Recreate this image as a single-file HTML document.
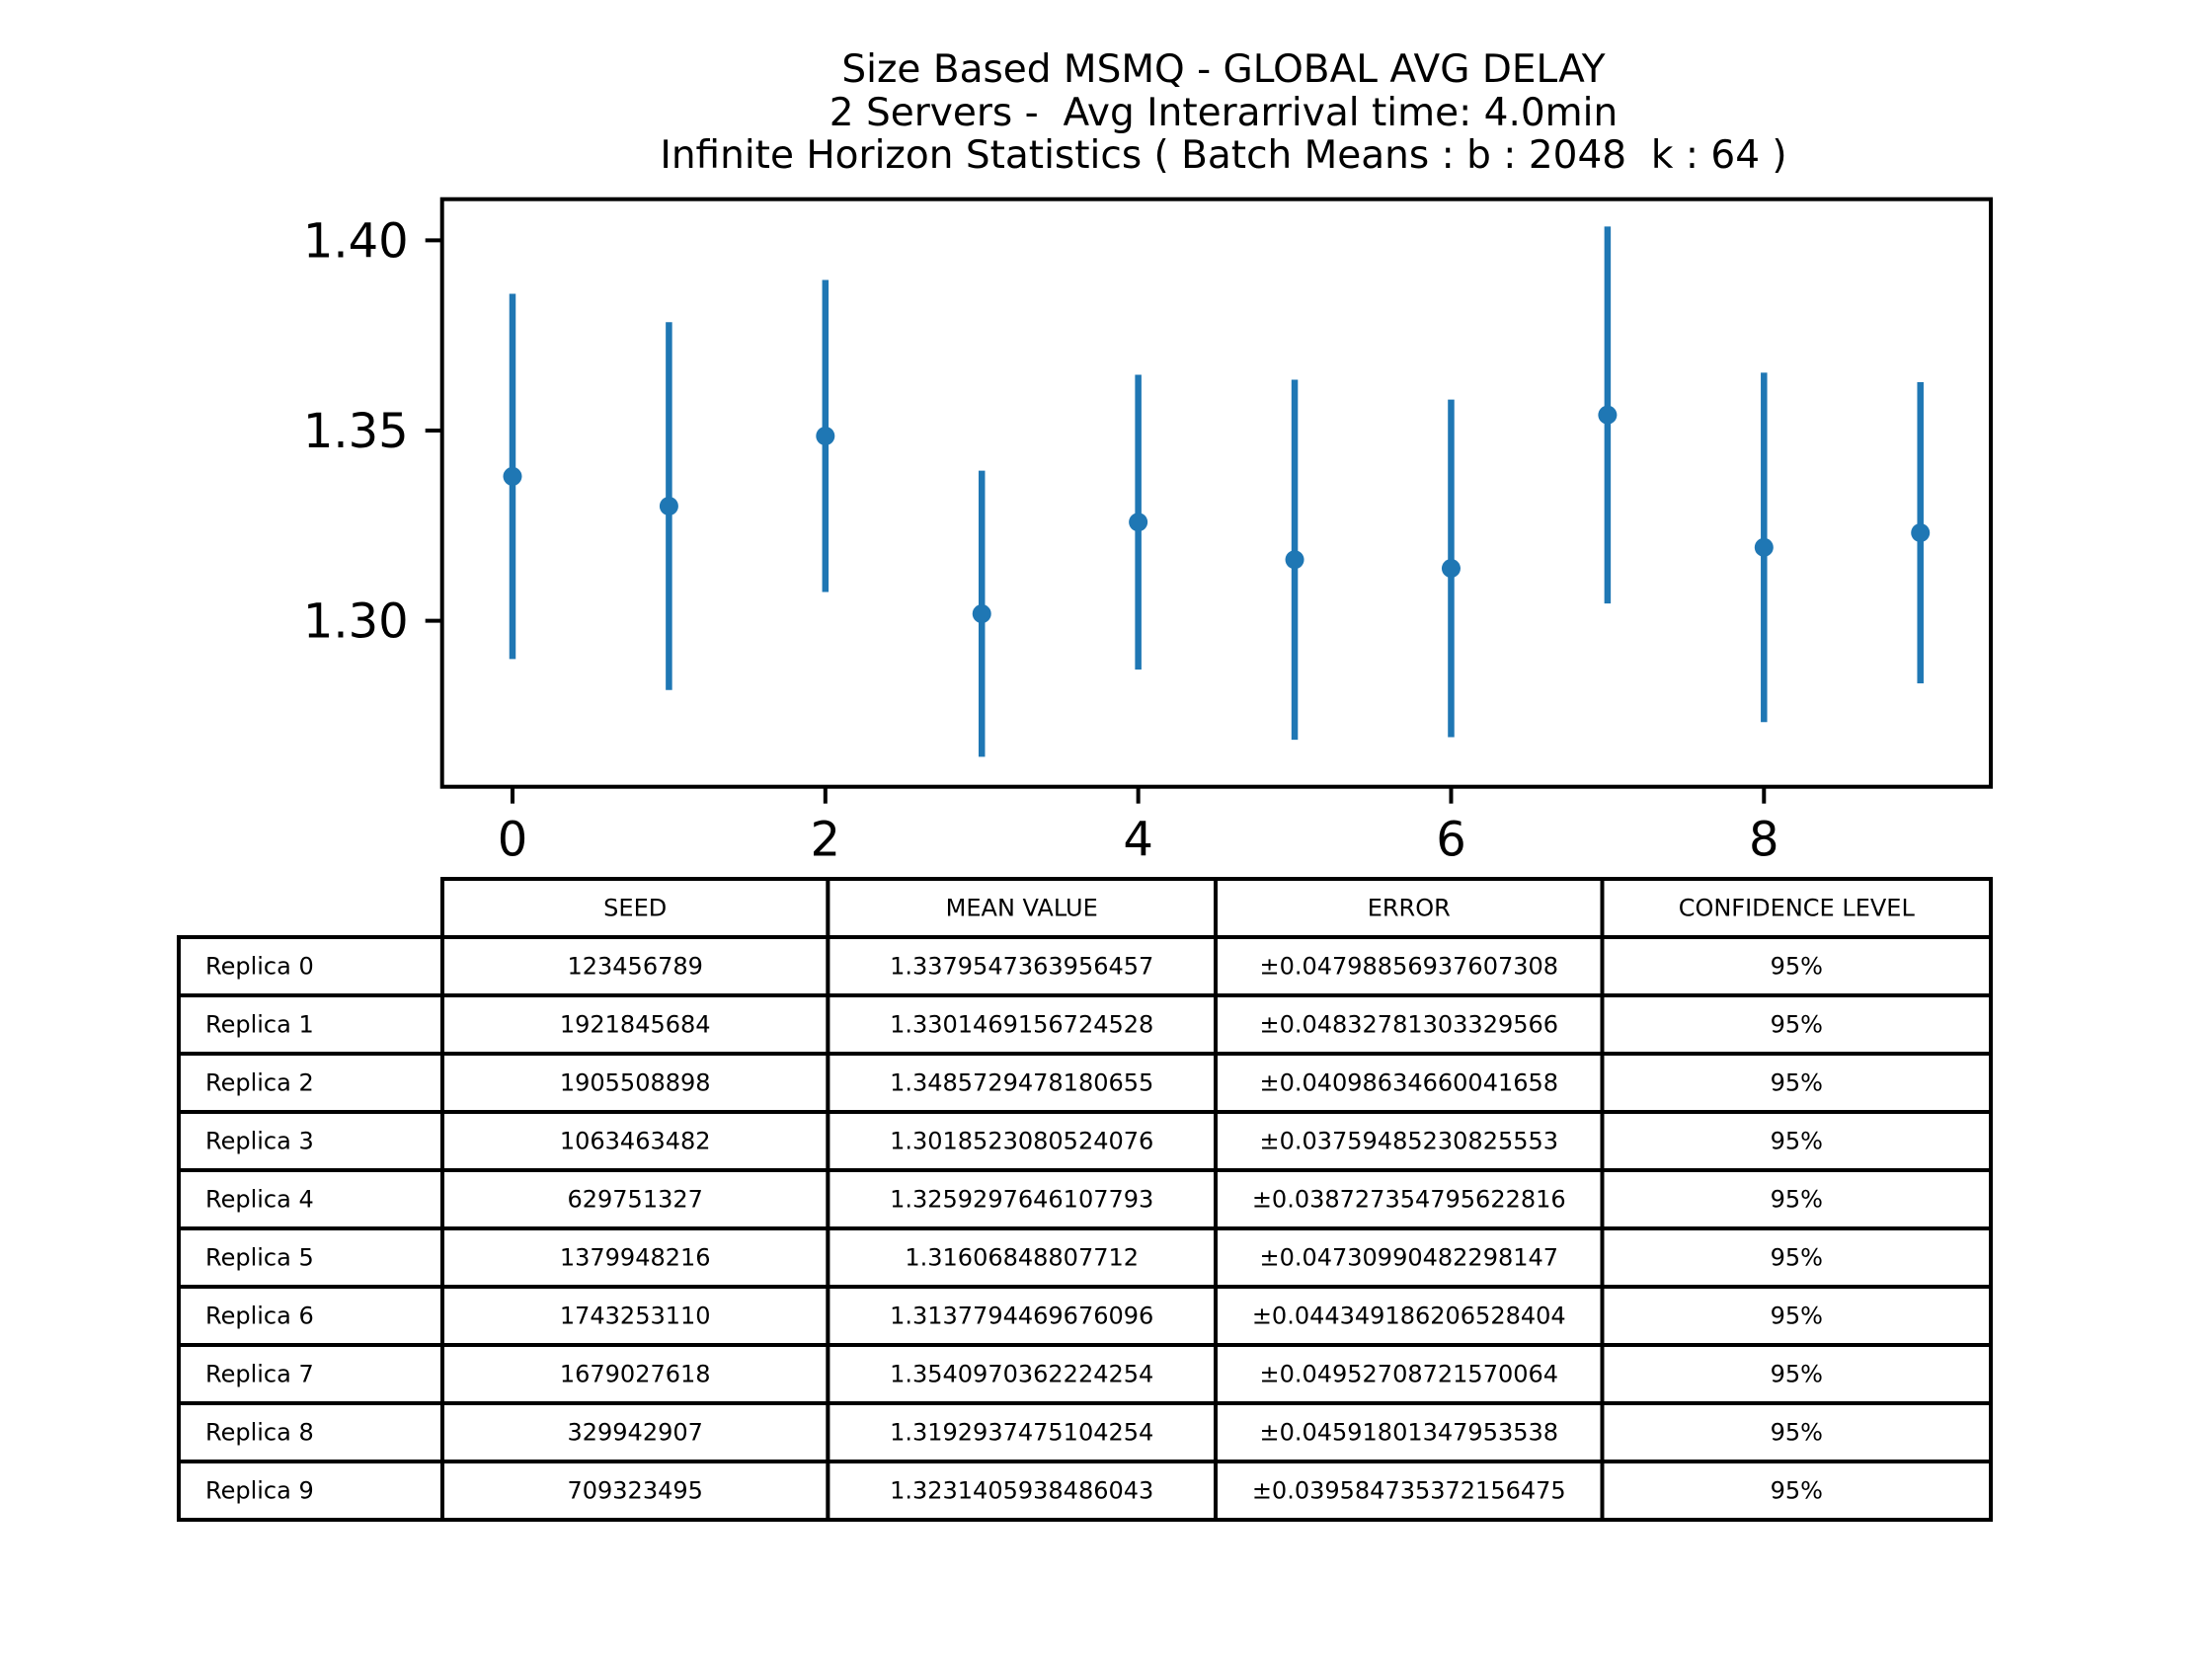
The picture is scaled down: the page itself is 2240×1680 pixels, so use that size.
<!DOCTYPE html>
<html><head><meta charset="utf-8"><style>
html,body{margin:0;padding:0;background:#fff;}
svg{display:block;font-family:"DejaVu Sans","Liberation Sans",sans-serif;}
text{white-space:pre;}
</style></head><body>
<svg id="chart" width="2240" height="1680" viewBox="0 0 2240 1680" xmlns="http://www.w3.org/2000/svg" xml:space="preserve">
<rect width="2240" height="1680" fill="#fff"/>
<g font-size="39" text-anchor="middle" fill="#000">
<text x="1239" y="83">Size Based MSMQ - GLOBAL AVG DELAY</text>
<text x="1239" y="127">2 Servers -  Avg Interarrival time: 4.0min</text>
<text x="1239" y="170">Infinite Horizon Statistics ( Batch Means : b : 2048  k : 64 )</text>
</g>
<g id="plot"></g>
<g id="table"></g>
</svg>
<script>
const replicas = [0,1,2,3,4,5,6,7,8,9];
const seeds = ["123456789","1921845684","1905508898","1063463482","629751327","1379948216","1743253110","1679027618","329942907","709323495"];
const means = ["1.3379547363956457","1.3301469156724528","1.3485729478180655","1.3018523080524076","1.3259297646107793","1.31606848807712","1.3137794469676096","1.3540970362224254","1.3192937475104254","1.3231405938486043"];
const errors = ["0.04798856937607308","0.04832781303329566","0.04098634660041658","0.03759485230825553","0.038727354795622816","0.04730990482298147","0.044349186206528404","0.04952708721570064","0.04591801347953538","0.039584735372156475"];
const yTicks = [1.30,1.35,1.40];
const yTickLabels = ["1.30","1.35","1.40"];
const xTicks = [0,2,4,6,8];
const headers = ["SEED","MEAN VALUE","ERROR","CONFIDENCE LEVEL"];

const NS="http://www.w3.org/2000/svg";
const L=447.7,R=2016,T=201.7,B=796.7;
const xmin=-0.45,xmax=9.45,ymin=1.2564,ymax=1.4108;
const sx=v=>L+(v-xmin)/(xmax-xmin)*(R-L);
const sy=v=>B-(v-ymin)/(ymax-ymin)*(B-T);
function mk(tag,attrs,parent,txt){const e=document.createElementNS(NS,tag);for(const k in attrs)e.setAttribute(k,attrs[k]);if(txt!==undefined)e.textContent=txt;parent.appendChild(e);return e;}
const plot=document.getElementById('plot');
replicas.forEach((r,i)=>{
  const m=parseFloat(means[i]),e=parseFloat(errors[i]);
  const bar=mk('line',{x1:sx(r),x2:sx(r),y1:sy(m-e),y2:sy(m+e),stroke:'#1f77b4','stroke-width':6.5},plot);
  
  
  const pt=mk('circle',{cx:sx(r),cy:sy(m),r:9.5,fill:'#1f77b4'},plot);
  
  
});
const frame=mk('rect',{x:L,y:T,width:R-L,height:B-T,fill:'none',stroke:'#000','stroke-width':4},plot);


yTicks.forEach((v,i)=>{
  const t=mk('line',{x1:L-17,x2:L,y1:sy(v),y2:sy(v),stroke:'#000','stroke-width':4},plot);
  
  
  const lb=mk('text',{x:L-34,y:sy(v)+17,'font-size':48,'text-anchor':'end'},plot,yTickLabels[i]);
  
  
});
xTicks.forEach(v=>{
  const t=mk('line',{x1:sx(v),x2:sx(v),y1:B,y2:B+17,stroke:'#000','stroke-width':4},plot);
  
  
  const lb=mk('text',{x:sx(v),y:B+70,'font-size':48,'text-anchor':'middle'},plot,String(v));
  
  
});
const tbl=document.getElementById('table');
const cols=[181,448,838.4,1231,1622.5,2016];
const top0=890,rh=59;
function cell(x0,x1,y0,txt,left){
  const r=mk('rect',{x:x0,y:y0,width:x1-x0,height:rh,fill:'#fff',stroke:'#000','stroke-width':4},tbl);
  
  
  let t;
  if(left){
    t=mk('text',{x:x0+27,y:y0+rh/2+8,'font-size':24},tbl,txt);
  } else {
    t=mk('text',{x:(x0+x1)/2,y:y0+rh/2+8,'font-size':24,'text-anchor':'middle'},tbl,txt);
  }
  
  
}
headers.forEach((h,j)=>cell(cols[j+1],cols[j+2],top0,h,false));
replicas.forEach((r,i)=>{
  const y0=top0+rh*(i+1);
  cell(cols[0],cols[1],y0,'Replica '+r,true);
  cell(cols[1],cols[2],y0,seeds[i],false);
  cell(cols[2],cols[3],y0,means[i],false);
  cell(cols[3],cols[4],y0,'\u00b1'+errors[i],false);
  cell(cols[4],cols[5],y0,'95%',false);
});
</script>
</body></html>
